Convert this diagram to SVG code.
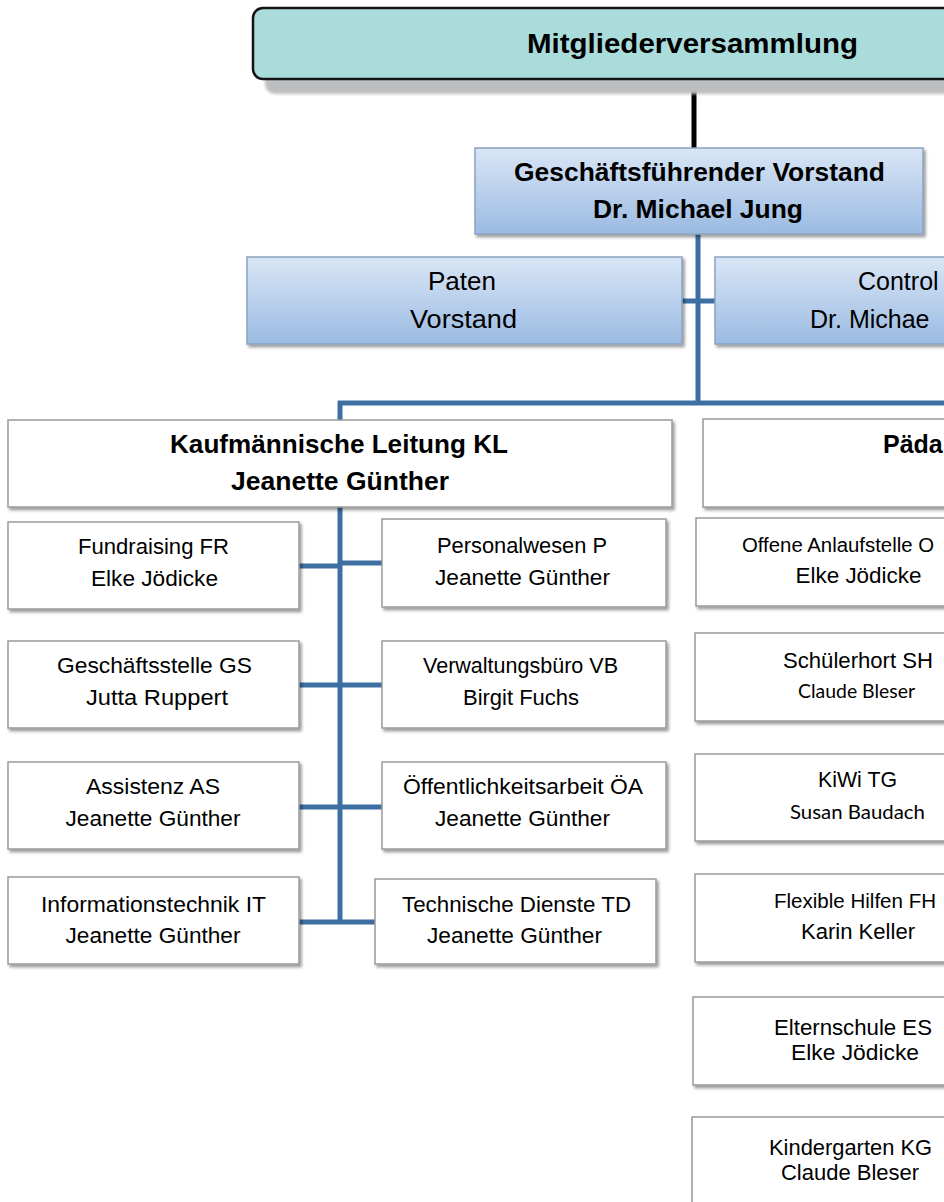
<svg xmlns="http://www.w3.org/2000/svg" width="944" height="1202" viewBox="0 0 944 1202">
<style>
  .t { font-family: "Liberation Sans", Arial, sans-serif; fill: #000; text-anchor: middle; }
  .ts { font-family: "Liberation Sans", Arial, sans-serif; fill: #000; }
  .b { font-weight: bold; }
  .big { font-size: 25px; }
  .sm { font-size: 22px; }
  .cal { font-family: Lato, "Open Sans", sans-serif; font-size: 19px; fill: #000; text-anchor: middle; }
  .box { fill: #ffffff; stroke: #9a9a9a; stroke-width: 1.5; filter: url(#sh); }
  .bbox { fill: url(#bg); stroke: #8ba2c0; stroke-width: 1.5; filter: url(#sh); }
  .con { stroke: #3d6fa3; stroke-width: 5; fill: none; }
</style>
<defs>
  <linearGradient id="bg" x1="0" y1="0" x2="0" y2="1">
    <stop offset="0" stop-color="#d9e6f6"/>
    <stop offset="1" stop-color="#9bbbe2"/>
  </linearGradient>
  <filter id="sh" x="-5%" y="-10%" width="112%" height="130%">
    <feDropShadow dx="2" dy="2.5" stdDeviation="1.5" flood-color="#000" flood-opacity="0.4"/>
  </filter>
  <filter id="blur" x="-5%" y="-20%" width="110%" height="140%">
    <feGaussianBlur stdDeviation="1.5"/>
  </filter>
</defs>

<g id="connectors">
  <line x1="694" y1="79" x2="694" y2="150" stroke="#000" stroke-width="5"/>
  <line class="con" x1="698" y1="234" x2="698" y2="403"/>
  <line class="con" x1="682" y1="301" x2="716" y2="301"/>
  <line class="con" x1="338" y1="403" x2="944" y2="403"/>
  <line class="con" x1="340" y1="401" x2="340" y2="924"/>
  <line class="con" x1="299" y1="566" x2="340" y2="566"/>
  <line class="con" x1="340" y1="563" x2="382" y2="563"/>
  <line class="con" x1="299" y1="685" x2="382" y2="685"/>
  <line class="con" x1="299" y1="807" x2="382" y2="807"/>
  <line class="con" x1="299" y1="922" x2="375" y2="922"/>
</g>

<g id="mitgliederversammlung">
  <rect x="265" y="22" width="760" height="72" rx="10" fill="#bdbec0" filter="url(#blur)"/>
  <rect x="253" y="8" width="760" height="71" rx="10" fill="#aadcdc" stroke="#141414" stroke-width="2.5"/>
  <text class="t b" x="692.5" y="53" font-size="28" textLength="331" lengthAdjust="spacingAndGlyphs">Mitgliederversammlung</text>
</g>

<g id="vorstand">
  <rect class="bbox" x="475" y="148" width="448" height="86"/>
  <text class="t b big" x="699.5" y="181" textLength="371" lengthAdjust="spacingAndGlyphs">Geschäftsführender Vorstand</text>
  <text class="t b big" x="698" y="218" textLength="210" lengthAdjust="spacingAndGlyphs">Dr. Michael Jung</text>
</g>

<g id="paten">
  <rect class="bbox" x="247" y="257" width="435" height="87"/>
  <text class="t big" x="462" y="290" textLength="68" lengthAdjust="spacingAndGlyphs">Paten</text>
  <text class="t big" x="463.5" y="328" textLength="107" lengthAdjust="spacingAndGlyphs">Vorstand</text>
</g>

<g id="controlling">
  <rect class="bbox" x="715" y="257" width="435" height="87"/>
  <text class="ts big" x="858" y="290">Control</text>
  <text class="ts big" x="810" y="328">Dr. Michae</text>
</g>

<g id="kaufmaennische-leitung">
  <rect class="box" x="8" y="420" width="664" height="87"/>
  <text class="t b big" x="339" y="453" textLength="338" lengthAdjust="spacingAndGlyphs">Kaufmännische Leitung KL</text>
  <text class="t b big" x="340" y="490" textLength="218" lengthAdjust="spacingAndGlyphs">Jeanette Günther</text>
</g>

<g id="paedagogische-leitung">
  <rect class="box" x="703" y="419" width="400" height="88"/>
  <text class="ts b big" x="883" y="453">Päda</text>
</g>

<g id="fundraising">
  <rect class="box" x="8" y="522" width="291" height="87"/>
  <text class="t sm" x="153.5" y="554" textLength="151" lengthAdjust="spacingAndGlyphs">Fundraising FR</text>
  <text class="t sm" x="154.5" y="586" textLength="127" lengthAdjust="spacingAndGlyphs">Elke Jödicke</text>
</g>

<g id="personalwesen">
  <rect class="box" x="382" y="519" width="284" height="88"/>
  <text class="t sm" x="522" y="553" textLength="170" lengthAdjust="spacingAndGlyphs">Personalwesen P</text>
  <text class="t sm" x="522.5" y="585" textLength="175" lengthAdjust="spacingAndGlyphs">Jeanette Günther</text>
</g>

<g id="geschaeftsstelle">
  <rect class="box" x="8" y="641" width="291" height="87"/>
  <text class="t sm" x="154.5" y="673" textLength="195" lengthAdjust="spacingAndGlyphs">Geschäftsstelle GS</text>
  <text class="t sm" x="157" y="705" textLength="142" lengthAdjust="spacingAndGlyphs">Jutta Ruppert</text>
</g>

<g id="verwaltungsbuero">
  <rect class="box" x="382" y="641" width="284" height="87"/>
  <text class="t sm" x="520.5" y="673" textLength="195" lengthAdjust="spacingAndGlyphs">Verwaltungsbüro VB</text>
  <text class="t sm" x="521" y="705" textLength="116" lengthAdjust="spacingAndGlyphs">Birgit Fuchs</text>
</g>

<g id="assistenz">
  <rect class="box" x="8" y="762" width="291" height="87"/>
  <text class="t sm" x="153" y="794" textLength="134" lengthAdjust="spacingAndGlyphs">Assistenz AS</text>
  <text class="t sm" x="153" y="826" textLength="175" lengthAdjust="spacingAndGlyphs">Jeanette Günther</text>
</g>

<g id="oeffentlichkeitsarbeit">
  <rect class="box" x="382" y="762" width="284" height="87"/>
  <text class="t sm" x="523" y="794" textLength="240" lengthAdjust="spacingAndGlyphs">Öffentlichkeitsarbeit ÖA</text>
  <text class="t sm" x="522.5" y="826" textLength="175" lengthAdjust="spacingAndGlyphs">Jeanette Günther</text>
</g>

<g id="informationstechnik">
  <rect class="box" x="8" y="877" width="291" height="87"/>
  <text class="t sm" x="153.5" y="912" textLength="225" lengthAdjust="spacingAndGlyphs">Informationstechnik IT</text>
  <text class="t sm" x="153" y="943" textLength="175" lengthAdjust="spacingAndGlyphs">Jeanette Günther</text>
</g>

<g id="technische-dienste">
  <rect class="box" x="375" y="879" width="281" height="85"/>
  <text class="t sm" x="516.5" y="912" textLength="229" lengthAdjust="spacingAndGlyphs">Technische Dienste TD</text>
  <text class="t sm" x="514.5" y="943" textLength="175" lengthAdjust="spacingAndGlyphs">Jeanette Günther</text>
</g>

<g id="offene-anlaufstelle">
  <rect class="box" x="696" y="518" width="330" height="88"/>
  <text class="ts" font-size="20" x="742" y="552" textLength="192" lengthAdjust="spacingAndGlyphs">Offene Anlaufstelle O</text>
  <text class="t sm" x="858.5" y="583" textLength="126" lengthAdjust="spacingAndGlyphs">Elke Jödicke</text>
</g>

<g id="schuelerhort">
  <rect class="box" x="695" y="633" width="330" height="88"/>
  <text class="t sm" x="858" y="668" textLength="150" lengthAdjust="spacingAndGlyphs">Schülerhort SH</text>
  <text class="cal" x="856.5" y="698" textLength="117" lengthAdjust="spacingAndGlyphs">Claude Bleser</text>
</g>

<g id="kiwi">
  <rect class="box" x="695" y="754" width="330" height="87"/>
  <text class="t sm" x="857.5" y="787" textLength="79" lengthAdjust="spacingAndGlyphs">KiWi TG</text>
  <text class="cal" x="857.5" y="819" textLength="135" lengthAdjust="spacingAndGlyphs">Susan Baudach</text>
</g>

<g id="flexible-hilfen">
  <rect class="box" x="695" y="874" width="330" height="88"/>
  <text class="t" font-size="20" x="855" y="908" textLength="162" lengthAdjust="spacingAndGlyphs">Flexible Hilfen FH</text>
  <text class="t sm" x="858" y="939" textLength="114" lengthAdjust="spacingAndGlyphs">Karin Keller</text>
</g>

<g id="elternschule">
  <rect class="box" x="693" y="997" width="330" height="88"/>
  <text class="t sm" x="853" y="1035" textLength="158" lengthAdjust="spacingAndGlyphs">Elternschule ES</text>
  <text class="t sm" x="855" y="1060" textLength="128" lengthAdjust="spacingAndGlyphs">Elke Jödicke</text>
</g>

<g id="kindergarten">
  <rect class="box" x="692" y="1117" width="330" height="100"/>
  <text class="t sm" x="850.5" y="1155" textLength="163" lengthAdjust="spacingAndGlyphs">Kindergarten KG</text>
  <text class="t sm" x="850" y="1180" textLength="138" lengthAdjust="spacingAndGlyphs">Claude Bleser</text>
</g>
</svg>
